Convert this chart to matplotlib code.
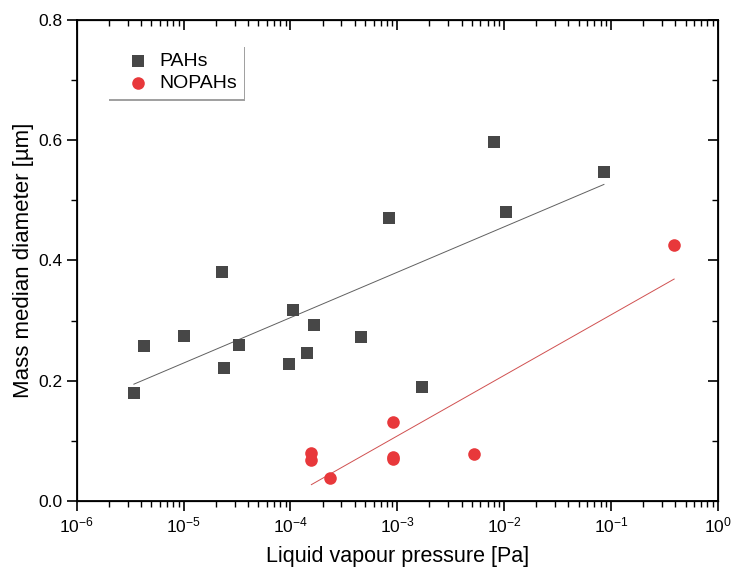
import numpy as np
import matplotlib.pyplot as plt
from matplotlib.ticker import LogLocator, MultipleLocator, NullFormatter, LogFormatterSciNotation

plt.rcParams['font.family'] = ['Liberation Sans', 'DejaVu Sans']
plt.rcParams['mathtext.fontset'] = 'custom'
plt.rcParams['mathtext.rm'] = 'Liberation Sans'

# PAHs: liquid vapour pressure [Pa] vs mass median diameter [um]
pah_logp = [-5.465, -5.374, -4.994, -4.639, -4.617, -4.483, -4.013, -3.976,
            -3.841, -3.782, -3.340, -3.081, -2.766, -2.097, -1.981, -1.066]
pah_mmd = [0.180, 0.258, 0.274, 0.381, 0.222, 0.260, 0.228, 0.318,
           0.246, 0.293, 0.273, 0.471, 0.190, 0.597, 0.481, 0.547]

# NOPAHs
nopah_logp = [-3.804, -3.804, -3.633, -3.037, -3.037, -3.037, -2.278, -0.409]
nopah_mmd = [0.081, 0.068, 0.039, 0.131, 0.073, 0.070, 0.078, 0.425]

x_decades = [-6, -5, -4, -3, -2, -1, 0]

pah_p = np.power(10.0, pah_logp)
nopah_p = np.power(10.0, nopah_logp)

# linear fits of diameter against log10(pressure)
pah_fit = np.polyfit(pah_logp, pah_mmd, 1)
nopah_fit = np.polyfit(nopah_logp, nopah_mmd, 1)

fig = plt.figure(figsize=(7.34, 5.72), dpi=100)
ax = fig.add_axes([0.1045, 0.1236, 0.8735, 0.842])

ax.scatter(pah_p, pah_mmd, marker='s', s=72, color='#474747', lw=0,
           label='PAHs', zorder=3)
ax.scatter(nopah_p, nopah_mmd, marker='o', s=82, color='#e8383b', lw=0,
           label='NOPAHs', zorder=3)

xs = np.array([min(pah_logp), max(pah_logp)])
ax.plot(10 ** xs, np.polyval(pah_fit, xs), color='#606060', lw=0.7, zorder=2)
xs = np.array([min(nopah_logp), max(nopah_logp)])
ax.plot(10 ** xs, np.polyval(nopah_fit, xs), color='#d05050', lw=0.7, zorder=2)

ax.set_xscale('log')
ax.set_xlim(1e-6, 1)
ax.set_ylim(0, 0.8)
major_x = np.power(10.0, x_decades)
minor_x = np.array([k * 10.0 ** d for d in x_decades[:-1] for k in range(2, 10)])
ax.set_xticks(major_x)
ax.set_xticks(minor_x, minor=True)
ax.xaxis.set_major_formatter(LogFormatterSciNotation())
ax.xaxis.set_minor_formatter(NullFormatter())
ax.yaxis.set_minor_locator(MultipleLocator(0.1))
ax.set_yticks([0.0, 0.2, 0.4, 0.6, 0.8])
ax.set_yticklabels(['0.0', '0.2', '0.4', '0.6', '0.8'])

ax.tick_params(which='major', direction='out', length=7, width=1.2,
               labelsize=12.5)
ax.tick_params(which='minor', direction='out', length=4, width=1.0)
for sp in ax.spines.values():
    sp.set_linewidth(1.3)

# mirrored ticks on top and right, pointing inwards
axt = ax.twiny()
axt.set_xscale('log')
axt.set_xlim(ax.get_xlim())
axt.set_xticks(major_x)
axt.set_xticks(minor_x, minor=True)
axt.xaxis.set_major_formatter(NullFormatter())
axt.xaxis.set_minor_formatter(NullFormatter())
axt.tick_params(which='major', direction='in', length=7, width=1.2, labeltop=False)
axt.tick_params(which='minor', direction='in', length=4, width=1.0)
axr = ax.twinx()
axr.set_ylim(ax.get_ylim())
axr.yaxis.set_major_locator(MultipleLocator(0.2))
axr.yaxis.set_minor_locator(MultipleLocator(0.1))
axr.yaxis.set_major_formatter(NullFormatter())
axr.tick_params(which='major', direction='in', length=7, width=1.2, labelright=False)
axr.tick_params(which='minor', direction='in', length=4, width=1.0)

ax.set_xlabel('Liquid vapour pressure [Pa]', fontsize=15.5, labelpad=7)
ax.set_ylabel('Mass median diameter [µm]', fontsize=16, labelpad=3)

leg = ax.legend(loc='upper left', bbox_to_anchor=(0.048, 0.947), fontsize=14,
                frameon=True, fancybox=False, edgecolor='white',
                shadow={'ox': 1.2, 'oy': -1.2, 'color': '#8a8a8a', 'alpha': 0.8},
                handletextpad=-0.1, borderpad=0.35, labelspacing=0.25,
                handlelength=2.4, borderaxespad=0)
leg.get_frame().set_linewidth(0)

fig.savefig('out.png', dpi=100)
